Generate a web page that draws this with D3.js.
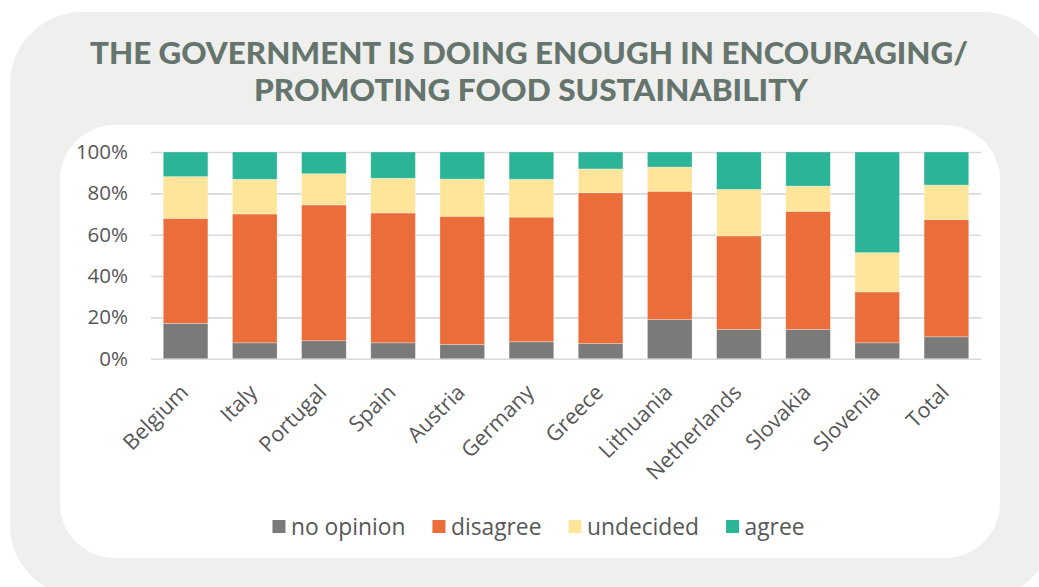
<!DOCTYPE html>
<html>
<head>
<meta charset="utf-8">
<script src="https://cdn.jsdelivr.net/npm/d3@7/dist/d3.min.js"></script>
<style>
  html, body { margin: 0; padding: 0; background: #ffffff; }
  svg { display: block; }
</style>
</head>
<body>
<svg id="chart" width="1039" height="587"></svg>
<script>
// ---- data ----
const titleLines = ["THE GOVERNMENT IS DOING ENOUGH IN ENCOURAGING/", "PROMOTING FOOD SUSTAINABILITY"];
const categories = ["Belgium","Italy","Portugal","Spain","Austria","Germany","Greece","Lithuania","Netherlands","Slovakia","Slovenia","Total"];
const seriesNames = ["no opinion","disagree","undecided","agree"];
const noOpinion = [17.1, 7.7, 8.7, 7.7, 6.9, 8.2, 7.3, 18.9, 14.2, 14.2, 7.7, 10.6];
const disagree  = [50.8, 62.3, 65.7, 62.8, 62.0, 60.3, 73.0, 62.1, 45.2, 57.1, 24.6, 56.7];
const undecided = [20.2, 16.8, 15.1, 16.8, 18.0, 18.3, 11.5, 11.7, 22.5, 12.2, 19.0, 16.7];
const agree     = [11.9, 13.2, 10.5, 12.7, 13.1, 13.2, 8.2, 7.3, 18.1, 16.5, 48.7, 16.0];
const yTicks = [0, 20, 40, 60, 80, 100];

// ---- styles ----
const colors = ["#7a7a78", "#eb6d3a", "#fee599", "#2bb596"];
const textColor = "#575757";

const svg = d3.select("#chart");

// panels
svg.append("rect").attr("x", 10).attr("y", 12).attr("width", 1045).attr("height", 585)
  .attr("rx", 72).attr("ry", 72).attr("fill", "#efefed");
svg.append("rect").attr("x", 60).attr("y", 125).attr("width", 940).attr("height", 433)
  .attr("rx", 55).attr("ry", 55).attr("fill", "#ffffff");

// title
const titleSpecs = [{x: 90, w: 878, y: 64}, {x: 254, w: 554, y: 100.7}];
titleLines.forEach((t, i) => {
  svg.append("text")
    .attr("x", titleSpecs[i].x).attr("y", titleSpecs[i].y)
    .attr("textLength", titleSpecs[i].w).attr("lengthAdjust", "spacingAndGlyphs")
    .attr("font-family", "Lato, 'Open Sans', sans-serif")
    .attr("font-weight", 900).attr("font-size", 29.5)
    .attr("fill", "#65756e")
    .text(t);
});

// table for stacking
const table = categories.map((c, i) => ({
  category: c,
  "no opinion": noOpinion[i],
  "disagree": disagree[i],
  "undecided": undecided[i],
  "agree": agree[i]
}));

const x = d3.scaleBand().domain(categories).range([151, 981]).paddingInner(0.355).paddingOuter(0.1775);
const y = d3.scaleLinear().domain([0, 100]).range([358.7, 152]);

// gridlines + y labels
const yAxis = svg.append("g").attr("transform", "translate(151,0)")
  .call(d3.axisLeft(y).tickValues(yTicks).tickSize(-830).tickPadding(23).tickFormat(d => d + "%"));
yAxis.select(".domain").remove();
yAxis.selectAll(".tick line").attr("stroke", "#d9d9d9").attr("stroke-width", 1.6);
yAxis.selectAll(".tick text")
  .attr("font-family", "'Open Sans', sans-serif").attr("font-size", 20.5)
  .attr("fill", textColor);

// bars
const stacked = d3.stack().keys(seriesNames)(table);
svg.append("g").selectAll("g").data(stacked).join("g")
  .attr("fill", (d, i) => colors[i])
  .selectAll("rect").data(d => d).join("rect")
  .attr("x", d => x(d.data.category))
  .attr("width", x.bandwidth())
  .attr("y", d => y(d[1]))
  .attr("height", d => y(d[0]) - y(d[1]))
  .attr("stroke", "rgba(255,255,255,0.35)").attr("stroke-width", 0.8);

// x labels
const xAxis = svg.append("g").attr("transform", "translate(0,358.7)")
  .call(d3.axisBottom(x).tickSize(0));
xAxis.select(".domain").remove();
xAxis.selectAll(".tick text")
  .attr("y", 0).attr("dy", 0)
  .attr("text-anchor", "end")
  .attr("transform", "translate(4,35) rotate(-45)")
  .attr("font-family", "'Open Sans', sans-serif").attr("font-size", 21.5)
  .attr("fill", textColor);

// legend
const legend = svg.append("g");
let cursor = 0;
seriesNames.forEach((name, i) => {
  const g = legend.append("g");
  g.append("rect").attr("x", 0).attr("y", -15).attr("width", 13).attr("height", 13).attr("fill", colors[i]);
  const t = g.append("text").attr("x", 18.5).attr("y", 0)
    .attr("font-family", "'Open Sans', sans-serif").attr("font-size", 22.8)
    .attr("fill", textColor).text(name);
  const w = 18.5 + t.node().getComputedTextLength();
  g.attr("transform", `translate(${cursor},0)`);
  cursor += w + 27;
});
const totalW = cursor - 27;
legend.attr("transform", `translate(${538.5 - totalW / 2},535)`);
</script>
</body>
</html>
